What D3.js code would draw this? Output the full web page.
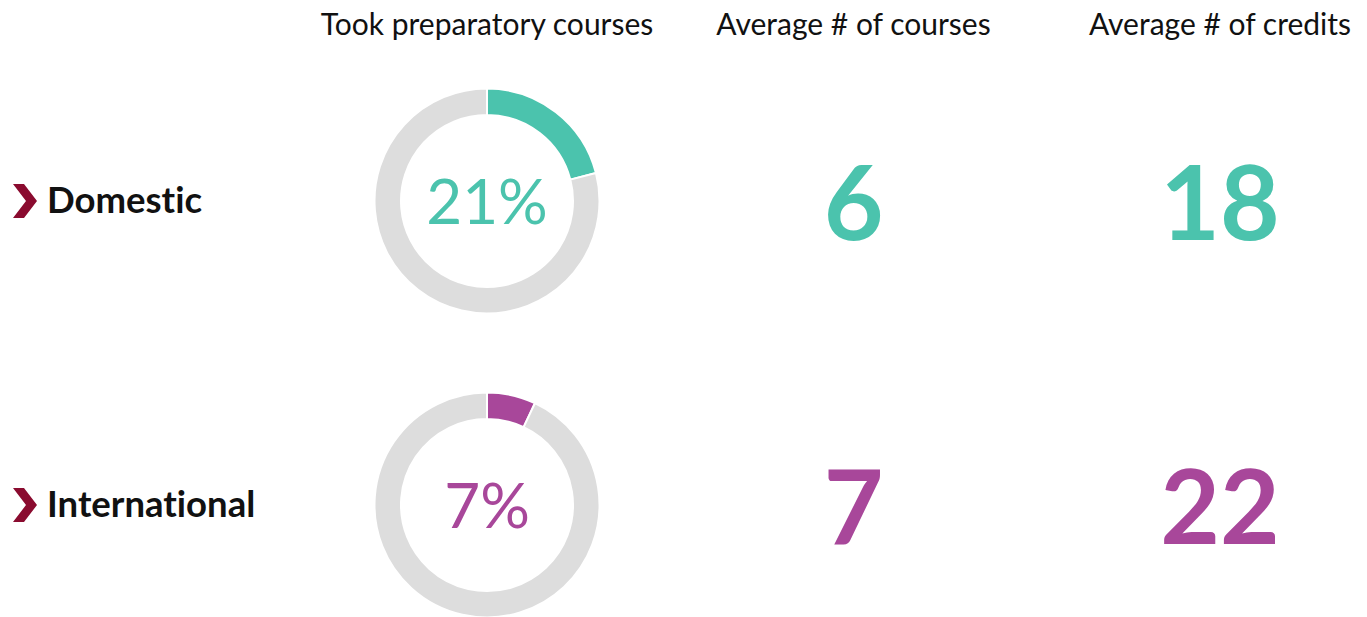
<!DOCTYPE html>
<html>
<head>
<meta charset="utf-8">
<script src="https://cdn.jsdelivr.net/npm/d3@7"></script>
<style>
  body { margin: 0; background: #fff; }
  svg { display: block; font-family: Lato, "Noto Sans", sans-serif; font-variant-ligatures: none; }
</style>
</head>
<body>
<div id="chart-area"></div>
<script>
// DATA
const groups = ['Domestic', 'International']
const columns = ['Took preparatory courses', 'Average # of courses', 'Average # of credits']
const tookPrep = [21, 7]
const avgCourses = [6, 7]
const avgCredits = [18, 22]
const groupColors = ['#4BC3AD', '#A8479A']

const width = 1367
const height = 617

const svg = d3.select('#chart-area')
              .append('svg')
              .attr('width', width)
              .attr('height', height)

// SCALES
const x = d3.scalePoint()
            .domain(columns)
            .range([487, 1220])

const y = d3.scalePoint()
            .domain(groups)
            .range([201, 505])

const pct = d3.scaleLinear()
              .domain([0, 100])
              .range([0, 2 * Math.PI])

// COLUMN HEADERS
svg.selectAll('.col-header')
   .data(columns)
   .enter()
   .append('text')
   .attr('class', 'col-header')
   .attr('x', d => x(d))
   .attr('y', 35)
   .attr('text-anchor', 'middle')
   .attr('font-size', '30px')
   .attr('fill', '#111')
   .text(d => d)

// ROW LABELS + CHEVRONS
const rows = svg.selectAll('.row')
                .data(groups)
                .enter()
                .append('g')
                .attr('class', 'row')
                .attr('transform', d => 'translate(0,' + y(d) + ')')

rows.append('path')
    .attr('d', 'M13,-17 L24,-17 L37,0 L24,17 L13,17 L26,0 Z')
    .attr('fill', '#8A0B2F')

rows.append('text')
    .attr('x', 47)
    .attr('y', 12)
    .attr('font-size', '36.5px')
    .attr('font-weight', 700)
    .attr('fill', '#111')
    .text(d => d)

// DONUTS
const arc = d3.arc()
              .innerRadius(86)
              .outerRadius(112.5)

rows.each(function (d, i) {
    const g = d3.select(this).append('g')
                .attr('transform', 'translate(' + x(columns[0]) + ',0)')
    const segs = [
        { start: 0, end: pct(tookPrep[i]), color: groupColors[i] },
        { start: pct(tookPrep[i]), end: pct(100), color: '#DDDDDD' }
    ]
    g.selectAll('path')
     .data(segs)
     .enter()
     .append('path')
     .attr('d', s => arc({ startAngle: s.start, endAngle: s.end }))
     .attr('fill', s => s.color)
     .attr('stroke', '#fff')
     .attr('stroke-width', 2)

    g.append('text')
     .attr('y', 23)
     .attr('text-anchor', 'middle')
     .attr('font-size', '62px')
     .attr('font-weight', 400)
     .attr('fill', groupColors[i])
     .text(tookPrep[i] + '%')
})

// BIG NUMBERS
rows.append('text')
    .attr('x', x(columns[1]))
    .attr('y', 39)
    .attr('text-anchor', 'middle')
    .attr('font-size', '103px')
    .attr('font-weight', 700)
    .attr('fill', (d, i) => groupColors[i])
    .text((d, i) => avgCourses[i])

rows.append('text')
    .attr('x', x(columns[2]))
    .attr('y', 39)
    .attr('text-anchor', 'middle')
    .attr('font-size', '103px')
    .attr('font-weight', 700)
    .attr('fill', (d, i) => groupColors[i])
    .text((d, i) => avgCredits[i])
</script>
</body>
</html>
